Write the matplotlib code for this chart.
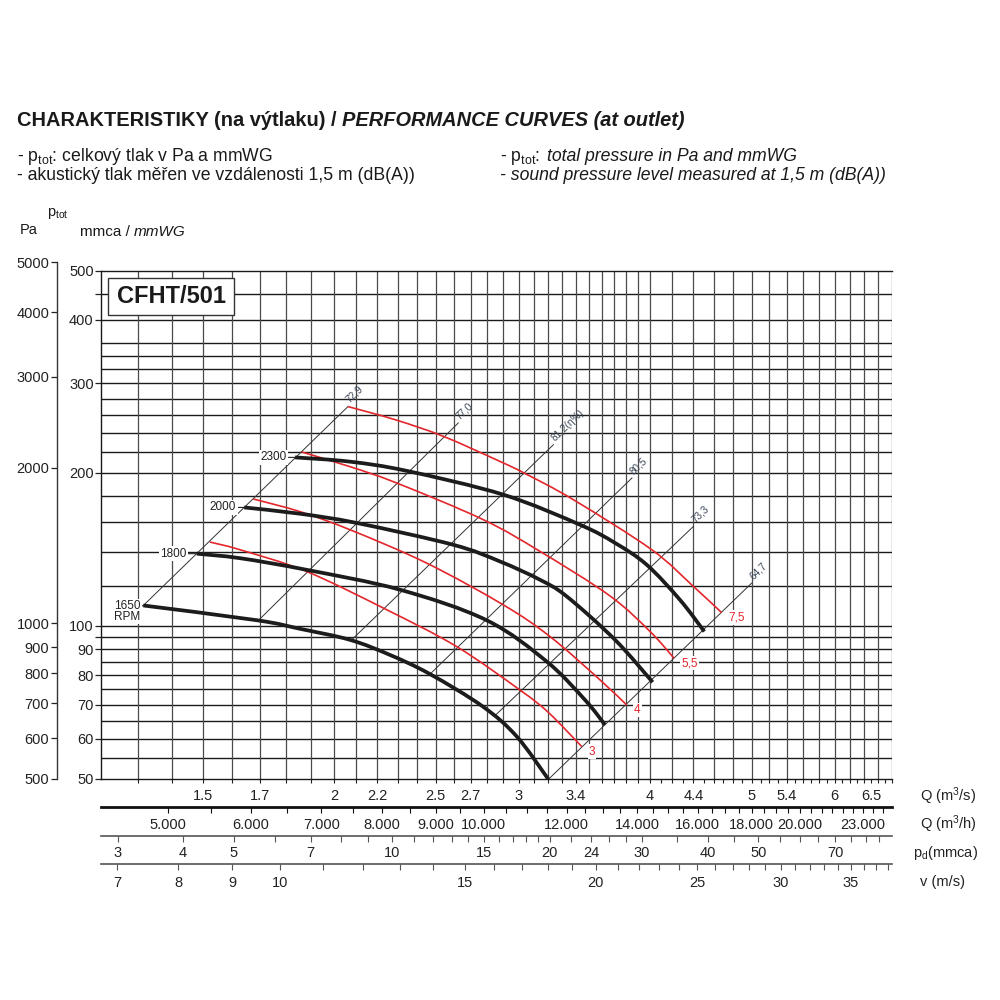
import matplotlib
matplotlib.use('Agg')
import numpy as np
import matplotlib.pyplot as plt
from matplotlib.patches import Rectangle, PathPatch
from matplotlib.path import Path

plt.rcParams['font.family'] = ['Liberation Sans', 'DejaVu Sans']
plt.rcParams['mathtext.fontset'] = 'custom'
plt.rcParams['mathtext.rm'] = 'Liberation Sans'
plt.rcParams['mathtext.it'] = 'Liberation Sans:italic'
plt.rcParams['mathtext.bf'] = 'Liberation Sans:bold'

# fan curves, Q in m3/s, p_tot in mmWG
rpm_labels = ['1650\nRPM', '1800', '2000', '2300']
rpm1650_q = [1.316, 1.689, 1.856, 2.071, 2.261, 2.469, 2.773, 2.987, 3.200]
rpm1650_p = [109.7, 102.6, 98.7, 93.9, 87.7, 80.4, 69.4, 60.6, 50.0]
rpm1800_q = [1.480, 1.627, 1.884, 2.312, 2.796, 3.190, 3.470, 3.625]
rpm1800_p = [138.7, 135.9, 128.9, 117.8, 102.6, 85.1, 71.5, 63.9]
rpm2000_q = [1.642, 1.856, 2.102, 2.598, 2.879, 3.144, 3.333, 3.706, 4.025]
rpm2000_p = [171.0, 166.2, 159.4, 144.4, 133.9, 123.2, 114.3, 93.9, 77.5]
rpm2300_q = [1.836, 2.071, 2.346, 2.900, 3.432, 3.706, 3.973, 4.274, 4.508]
rpm2300_p = [214.5, 210.4, 201.8, 181.2, 158.1, 145.6, 131.9, 112.5, 97.5]

# red curves (motor kW)
kw_labels = ['3', '4', '5,5', '7,5']
kw3_q = [1.523, 1.627, 1.884, 2.245, 2.617, 3.008, 3.201, 3.445]
kw3_p = [146.2, 141.2, 127.9, 107.6, 91.1, 74.8, 67.6, 57.9]
kw4_q = [1.675, 1.856, 2.071, 2.451, 2.900, 3.213, 3.586, 3.802]
kw4_p = [177.7, 167.8, 154.6, 132.9, 110.0, 95.3, 78.3, 69.9]
kw55_q = [1.863, 2.071, 2.295, 2.775, 3.144, 3.666, 4.002, 4.218]
kw55_p = [219.8, 205.7, 191.0, 161.8, 140.1, 114.5, 97.5, 86.4]
kw75_q = [2.062, 2.286, 2.542, 2.879, 3.042, 3.382, 4.017, 4.401, 4.683]
kw75_p = [270.0, 254.5, 236.0, 210.6, 199.4, 177.1, 141.2, 119.6, 106.2]

# efficiency / sound lines
eff_labels = ['72,9', '77,0', '81,2(η%)', '80,5', '73,3', '64,7']
eff_q0 = [1.316, 1.694, 2.079, 2.469, 2.847, 3.201]
eff_p0 = [109.7, 102.5, 93.9, 80.4, 66.6, 49.9]
eff_q1 = [2.062, 2.627, 3.237, 3.846, 4.401, 5.002]
eff_p1 = [270.0, 250.7, 227.2, 195.4, 156.9, 121.4]

# axes ticks
grid_p = [55, 60, 65, 70, 75, 80, 85, 90, 95, 100, 120, 140, 160, 180, 200,
          220, 240, 260, 280, 300, 320, 340, 360, 400, 450]
p_ticks = [50, 60, 70, 80, 90, 95, 100, 200, 300, 400, 450, 500]
p_labels = ['50', '60', '70', '80', '90', '', '100', '200', '300', '400', '', '500']
pa_ticks = [500, 600, 700, 800, 900, 1000, 2000, 3000, 4000, 5000]
q_ticks = [round(1.3 + 0.1 * i, 1) for i in range(56)]
grid_q = [round(1.3 + 0.1 * i, 1) for i in range(28)] + \
         [round(4.2 + 0.2 * i, 1) for i in range(14)]
q_labeled = [1.5, 1.7, 2, 2.2, 2.5, 2.7, 3, 3.4, 4, 4.4, 5, 5.4, 6, 6.5]
qh_ticks = list(range(5000, 24001, 500))
qh_labeled = [5000, 6000, 7000, 8000, 9000, 10000, 12000, 14000, 16000, 18000, 20000, 23000]
pd_ticks = list(range(3, 21)) + [22, 24, 26, 28, 30] + list(range(35, 90, 5))
pd_labeled = [3, 4, 5, 7, 10, 15, 20, 24, 30, 40, 50, 70]
v_ticks = list(range(7, 39))
v_labeled = [7, 8, 9, 10, 15, 20, 25, 30, 35]

Q_MIN, Q_MAX = 1.2, 6.8
QH_FACTOR = 3600.0
PD_FACTOR = 1.94   # p_d = 1.94 * Q^2
V_FACTOR = 5.63    # v = 5.63 * Q

W = H = 1000
fig = plt.figure(figsize=(10, 10), dpi=100)
renderer = fig.canvas.get_renderer()


def fx(px):
    return px / W


def fy(py):
    return 1 - py / H


def smooth_curve(qs, ps):
    # Catmull-Rom through the read points, drawn as cubic Bezier in log space
    pts = np.column_stack([np.log10(qs), np.log10(ps)])
    n = len(pts)
    verts = [pts[0]]
    codes = [Path.MOVETO]
    for i in range(n - 1):
        a = pts[i - 1] if i > 0 else pts[i]
        b = pts[i]
        c = pts[i + 1]
        d = pts[i + 2] if i + 2 < n else pts[i + 1]
        verts += [b + (c - a) / 6.0, c - (d - b) / 6.0, c]
        codes += [Path.CURVE4] * 3
    return Path(10 ** np.array(verts), codes)


X0, X1 = 101.3, 891.6
ax = fig.add_axes([fx(X0), fy(779), fx(X1) - fx(X0), (779 - 270.5) / H])
ax.set_xscale('log')
ax.set_yscale('log')
ax.set_xlim(Q_MIN, Q_MAX)
ax.set_ylim(50, 500)
ax.minorticks_off()

for p in grid_p:
    ax.axhline(p, color='#1a1a1a', lw=1.0, zorder=1)
for q in grid_q:
    ax.axvline(q, color='#4a4a4a', lw=0.9, zorder=1)

ax.set_yticks(p_ticks)
ax.set_yticklabels(p_labels)
ax.set_xticks(q_ticks)
ax.set_xticklabels(['%g' % q if q in q_labeled else '' for q in q_ticks])
ax.minorticks_off()
ax.tick_params(axis='y', direction='out', length=4, width=0.9, pad=1.5,
               labelsize=10.5, colors='#222222')
ax.tick_params(axis='x', direction='out', length=3, width=0.8, pad=4.3,
               labelsize=10.5, colors='#222222')
ax.spines['right'].set_visible(False)
for s in ['left', 'top', 'bottom']:
    ax.spines[s].set_linewidth(1.0)
    ax.spines[s].set_color('#1a1a1a')

# efficiency lines
for q0, p0, q1, p1, lab in zip(eff_q0, eff_p0, eff_q1, eff_p1, eff_labels):
    ax.plot([q0, q1], [p0, p1], color='#333333', lw=0.7, zorder=2)
    ax.annotate(lab, xy=(q1, p1), xytext=(3, 2), textcoords='offset pixels',
                rotation=44, rotation_mode='anchor', ha='left', va='bottom',
                fontsize=7.2, color='#3c4858', zorder=6)

# red kW curves
red = '#e3262b'
kw_curves = [(kw3_q, kw3_p), (kw4_q, kw4_p), (kw55_q, kw55_p), (kw75_q, kw75_p)]
for (qs, ps), lab in zip(kw_curves, kw_labels):
    ax.add_patch(PathPatch(smooth_curve(qs, ps), fill=False, edgecolor=red,
                           lw=1.2, zorder=3, capstyle='butt'))
    ax.annotate(lab, xy=(qs[-1], ps[-1]), xytext=(7, -5), textcoords='offset pixels',
                ha='left', va='center', fontsize=8.5, color=red, zorder=6,
                bbox=dict(boxstyle='square,pad=0.1', fc='white', ec='none'))

# black fan curves
rpm_curves = [(rpm1650_q, rpm1650_p), (rpm1800_q, rpm1800_p),
              (rpm2000_q, rpm2000_p), (rpm2300_q, rpm2300_p)]
rpm_offsets = [(-3, -6), (-10, 0), (-8, 0), (-8, 0)]
for (qs, ps), lab, off in zip(rpm_curves, rpm_labels, rpm_offsets):
    ax.add_patch(PathPatch(smooth_curve(qs, ps), fill=False, edgecolor='#1c1c1c',
                           lw=2.7, zorder=4, capstyle='butt'))
    ax.annotate(lab, xy=(qs[0], ps[0]), xytext=off, textcoords='offset pixels',
                ha='right', va='center', fontsize=8.5, color='#222222',
                linespacing=0.85, zorder=6,
                bbox=dict(boxstyle='square,pad=0.12', fc='white', ec='none'),
                arrowprops=dict(arrowstyle='-', lw=0.8, color='#222222',
                                shrinkA=0, shrinkB=0))

# model box
ax.add_patch(Rectangle((fx(108), fy(315)), (234 - 108) / W, (315 - 278) / H,
                       transform=fig.transFigure, facecolor='white',
                       edgecolor='#333333', lw=1.0, zorder=7, clip_on=False))
fig.text(fx(171), fy(297), 'CFHT/501', fontsize=17, fontweight='bold',
         ha='center', va='center', color='#1a1a1a', zorder=8)

# Pa axis
ax_pa = fig.add_axes([fx(57), fy(779), 0.0001, (779 - 262) / H])
ax_pa.set_yscale('log')
ax_pa.set_ylim(500, 5000)
ax_pa.minorticks_off()
ax_pa.set_yticks(pa_ticks)
ax_pa.set_yticklabels([str(v) for v in pa_ticks])
ax_pa.minorticks_off()
ax_pa.set_xticks([])
ax_pa.patch.set_visible(False)
for s in ['right', 'top', 'bottom']:
    ax_pa.spines[s].set_visible(False)
ax_pa.spines['left'].set_color('#333333')
ax_pa.spines['left'].set_linewidth(1.0)
ax_pa.tick_params(axis='y', direction='out', length=4, width=0.9, pad=1.5,
                  labelsize=10.5, colors='#222222')


def make_row(y_px, factor, power, ticks, labeled, fmt, lw, color, pad):
    a = fig.add_axes([fx(X0), fy(y_px), fx(X1) - fx(X0), 0.0001])
    a.set_xscale('log')
    a.set_xlim(factor * Q_MIN ** power, factor * Q_MAX ** power)
    a.minorticks_off()
    a.set_xticks(ticks)
    a.set_xticklabels([fmt(t) if t in labeled else '' for t in ticks])
    a.minorticks_off()
    a.set_yticks([])
    a.patch.set_visible(False)
    for s in ['left', 'right', 'top']:
        a.spines[s].set_visible(False)
    a.spines['bottom'].set_linewidth(lw)
    a.spines['bottom'].set_color(color)
    a.tick_params(axis='x', direction='out', length=4, width=0.8, pad=pad,
                  labelsize=10.5, colors='#222222')
    a.tick_params(axis='x', color=color)
    return a


make_row(807, QH_FACTOR, 1, qh_ticks, qh_labeled,
         lambda v: f'{v:,}'.replace(',', '.'), 2.0, '#111111', 3.6)
make_row(835.7, PD_FACTOR, 2, pd_ticks, pd_labeled, str, 1.2, '#555555', 3.6)
make_row(864.3, V_FACTOR, 1, v_ticks, v_labeled, str, 1.2, '#555555', 4.2)

row_names = ['Q (m$^3$/s)', 'Q (m$^3$/h)', 'p$_\\mathrm{d}$(mmca)', 'v (m/s)']
row_y = [796, 824, 853, 882]
row_x = [920, 920, 913, 920]
for name, yy, xx in zip(row_names, row_y, row_x):
    fig.text(fx(xx), fy(yy), name, fontsize=10.5, ha='left', va='center',
             color='#222222')


def text_run(x, y, parts, size):
    for s, weight, style in parts:
        t = fig.text(fx(x), fy(y), s, fontsize=size, fontweight=weight,
                     fontstyle=style, ha='left', va='baseline',
                     color='#1a1a1a')
        x = t.get_window_extent(renderer).x1
        if s.endswith(' ') and '$' in s:
            # mathtext drops the trailing blank from its extent
            x += 0.28 * size * 100 / 72


text_run(17, 126, [('CHARAKTERISTIKY (na výtlaku) / ', 'bold', 'normal'),
                   ('PERFORMANCE CURVES (at outlet)', 'bold', 'italic')], 14.4)
text_run(17, 161, [('- $\\mathrm{p_{tot}}$: celkový tlak v Pa a mmWG', 'normal', 'normal')], 12.7)
text_run(17, 180, [('- akustický tlak měřen ve vzdálenosti 1,5 m (dB(A))', 'normal', 'normal')], 12.7)
text_run(500, 161, [('- $\\mathrm{p_{tot}}$: ', 'normal', 'normal'),
                    ('total pressure in Pa and mmWG', 'normal', 'italic')], 12.7)
text_run(500, 180, [('- sound pressure level measured at 1,5 m (dB(A))', 'normal', 'italic')], 12.7)
text_run(20, 234, [('Pa', 'normal', 'normal')], 10.5)
text_run(47, 216, [('$\\mathrm{p_{tot}}$', 'normal', 'normal')], 10.5)
text_run(80, 236, [('mmca / ', 'normal', 'normal'), ('mmWG', 'normal', 'italic')], 11)

fig.savefig('out.png', dpi=100, facecolor='white')
